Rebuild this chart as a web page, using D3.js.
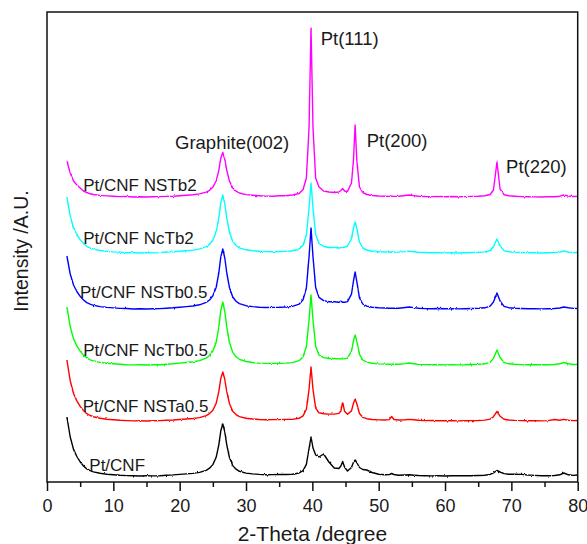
<!DOCTYPE html>
<html>
<head>
<meta charset="utf-8">
<script src="https://cdn.jsdelivr.net/npm/d3@7"></script>
<style>
  body { margin: 0; background: #fff; }
  svg text { font-family: "Liberation Sans", Arial, sans-serif; fill: #1a1a1a; }
</style>
</head>
<body>
<svg id="chart" width="587" height="544"></svg>
<script>
// 2-theta positions (degrees) shared by every diffractogram
const twoTheta = [
  3, 3.5, 4, 4.5, 5, 5.5, 6, 6.5, 7, 8,
  9, 10, 11, 12, 13, 14, 15, 16, 17, 18,
  19, 20, 21, 22, 23, 24, 24.5, 25, 25.5, 25.9,
  26.2, 26.5, 26.8, 27.1, 27.5, 28, 28.5, 29, 30, 31,
  32, 33, 34, 35, 36, 37, 38, 38.6, 39.1, 39.5,
  39.8, 40.1, 40.5, 41, 41.7, 42.5, 43.3, 44, 44.3, 44.57,
  44.85, 45.3, 45.9, 46.2, 46.45, 46.7, 47.1, 47.6, 48.2, 49,
  50, 51, 51.6, 51.95, 52.3, 53, 54, 54.6, 55.3, 56,
  57, 58, 59, 60, 61, 62, 63, 64, 65, 66,
  66.8, 67.3, 67.83, 68.3, 68.9, 69.6, 70.5, 71.5, 72.5, 73.5,
  74.5, 75.5, 76.5, 77.3, 77.9, 78.6, 79.3, 80
];

// Intensity above background (a.u.) for each sample
const ptCnf = [
  59, 39, 26.6, 19.5, 14.2, 10, 7.1, 5.3, 4.1, 2.7,
  1.8, 1.2, 0.7, 0.4, 0.2, 0, 0.3, 0.1, 0.3, 0.8,
  1.1, 1.6, 2.1, 2.6, 3.6, 5.7, 7.8, 11.4, 18.7, 31.2,
  45.2, 52, 44.2, 31.2, 18.7, 10.4, 6.8, 4.7, 2.9, 2.1,
  1.6, 1.3, 1.4, 1.5, 1.5, 1.8, 3, 5.4, 11.6, 27.5,
  39, 28, 21, 19, 22, 14, 8, 7.5, 10, 14.5,
  9, 5, 8.6, 13.7, 16, 13.5, 8.5, 6.5, 6, 3.5,
  1.8, 1.2, 1.4, 2.5, 1.5, 0.8, 1, 1.2, 0.8, 0.5,
  0.3, 0.1, 0.3, 0, 0.2, 0.4, 0.2, 0.3, 0.5, 0.8,
  1.6, 3.2, 5.5, 4, 2.4, 1.8, 1.8, 1.6, 1, 0.6,
  0.3, 0.2, 0.5, 1.2, 3, 1.2, 0.6, 1
];
const ptCnfNSTa05 = [
  61, 40.3, 27.5, 20.1, 14.6, 10.4, 7.3, 5.5, 4.3, 2.7,
  1.8, 1.2, 0.7, 0.4, 0.1, 0.3, 0, 0.3, 0.4, 0.8,
  1.0, 1.5, 2, 2.5, 3.4, 5.4, 7.4, 10.8, 17.6, 29.4,
  42.6, 49, 41.7, 29.4, 17.6, 9.8, 6.4, 4.4, 2.7, 2,
  1.5, 1.3, 1.4, 1.4, 1.6, 1.6, 2.7, 5.1, 11.8, 31.5,
  54, 31.5, 12.8, 8.2, 7.3, 6.9, 6.9, 7.6, 10, 19,
  9.8, 6.8, 10.1, 17.8, 22, 17.3, 7.5, 3.7, 2.3, 1.5,
  1.1, 1, 1.4, 4.5, 1.5, 1, 1.3, 1.6, 1.2, 0.8,
  0.4, 0.5, 0.3, 0.2, 0.4, 0.1, 0.3, 0.4, 0.5, 0.9,
  1.9, 4.3, 9.5, 4.8, 1.8, 1, 0.6, 0.4, 0.2, 0.3,
  0.1, 0.4, 1.5, 0.8, 1.6, 0.8, 0.4, 0.5
];
const ptCnfNcTb05 = [
  58, 38.3, 26.1, 19.1, 13.9, 9.9, 7, 5.2, 4.1, 2.6,
  1.7, 1.2, 0.7, 0.3, 0.1, 0.3, 0, 0.2, 0.3, 0.8,
  1.2, 1.9, 2.5, 3.2, 4.4, 6.9, 9.5, 13.9, 22.7, 37.8,
  54.8, 63, 53.6, 37.8, 22.7, 12.6, 8.2, 5.7, 3.5, 2.5,
  1.9, 1.6, 1.6, 1.6, 1.9, 2.4, 4.3, 8.2, 18.2, 45,
  70, 45, 18.7, 10, 7.4, 6.5, 6.5, 6.1, 6.2, 6.1,
  6.1, 6.9, 14, 24.4, 30, 23.9, 10.7, 5, 2.9, 1.7,
  1.1, 0.9, 0.7, 0.8, 0.7, 0.8, 1.4, 2, 1.3, 0.6,
  0.4, 0.3, 0.4, 0.1, 0.3, 0.1, 0.2, 0.5, 0.7, 1.2,
  2.7, 6.6, 15, 7.5, 2.6, 1.2, 0.7, 0.4, 0.3, 0.2,
  0.2, 0.3, 0.5, 1.2, 2.5, 1.3, 0.5, 0.6
];
const ptCnfNSTb05 = [
  53, 35, 24, 17.5, 12.7, 9, 6.4, 4.8, 3.7, 2.4,
  1.6, 1.1, 0.6, 0.5, 0, 0.2, 0, 0.3, 0.4, 0.8,
  1.2, 1.8, 2.4, 3, 4.2, 6.6, 9, 13.2, 21.6, 36,
  52.2, 60, 51, 36, 21.6, 12, 7.8, 5.4, 3.3, 2.4,
  1.8, 1.5, 1.6, 1.7, 2, 2.6, 4.8, 9.3, 21, 52,
  81, 52, 21.5, 11.6, 8.4, 7.2, 7.2, 6.7, 7.8, 6.7,
  6.7, 7.4, 14.8, 28, 37, 27.6, 11.2, 5, 2.9, 1.7,
  1.2, 1, 0.7, 0.9, 0.7, 0.8, 1.5, 2, 1.4, 0.8,
  0.4, 0.3, 0.5, 0.2, 0.3, 0.1, 0.3, 0.5, 0.7, 1.2,
  2.9, 7, 16, 8, 2.7, 1.3, 0.8, 0.5, 0.3, 0.2,
  0.1, 0.3, 0.5, 1, 2, 1.2, 0.6, 0.5
];
const ptCnfNcTb2 = [
  56, 37, 25, 18.5, 13.4, 9.5, 6.7, 5, 3.9, 2.5,
  1.7, 1.1, 0.7, 0.3, 0.2, 0, 0.3, 0.1, 0.4, 1.0,
  1.2, 1.7, 2.3, 2.9, 4.1, 6.4, 8.7, 12.8, 20.9, 34.8,
  50.5, 58, 49.3, 34.8, 20.9, 11.6, 7.5, 5.2, 3.2, 2.3,
  1.7, 1.4, 1.3, 1.5, 1.6, 2.2, 4, 7.8, 18, 45,
  70, 45, 18.5, 9.5, 6.5, 5.5, 5.5, 5, 5.4, 5.5,
  5.7, 7, 14.4, 25, 31, 25, 11, 5, 3, 1.7,
  1.2, 1, 0.8, 1, 0.8, 0.9, 1.4, 1.9, 1.3, 0.7,
  0.5, 0.2, 0.4, 0.1, 0.3, 0, 0.2, 0.5, 0.7, 1.1,
  2.5, 6.2, 14, 7, 2.4, 1.2, 0.7, 0.4, 0.2, 0.3,
  0, 0.2, 0.4, 0.8, 2, 0.9, 0.4, 0.5
];
const ptCnfNSTb2 = [
  36, 24, 16, 12, 9, 6, 4.5, 3.2, 2.5, 1.6,
  1.1, 0.7, 0.4, 0.5, 0, 0.3, 0, 0.2, 0.4, 0.6,
  0.8, 1.3, 1.8, 2.2, 3.1, 4.9, 6.7, 9.8, 16, 26.7,
  38.7, 44.5, 37.8, 26.7, 16, 8.9, 5.8, 4, 2.4, 1.8,
  1.3, 0.9, 0.7, 1.2, 1.3, 2, 3.5, 7.5, 19, 69,
  169, 69, 19, 10, 6, 5, 4.5, 5, 6.5, 8.5,
  6, 5.5, 14, 37, 72, 37, 10, 4.5, 2.5, 1.5,
  1.0, 0.8, 0.6, 0.8, 0.6, 0.8, 1.5, 2, 1.4, 0.8,
  0.5, 0.4, 0.6, 0.3, 0.5, 0.2, 0.4, 0.6, 0.8, 1.2,
  2.5, 7, 35, 8, 2.3, 1.2, 0.8, 0.4, 0.3, 0.1,
  0, 0.2, 0.3, 0.8, 2, 1, 0.5, 0.6
];

const sampleNames = ["Pt/CNF", "Pt/CNF NSTa0.5", "Pt/CNF NcTb0.5", "Pt/CNF NSTb0.5", "Pt/CNF NcTb2", "Pt/CNF NSTb2"];
const sampleColors = ["#000000", "#ff0000", "#00ff00", "#0000ff", "#00ffff", "#ff00ff"];
const stackOffsets = [6, 61, 117, 173, 229, 285];   // vertical shift of each trace (a.u.)
const sampleValues = [ptCnf, ptCnfNSTa05, ptCnfNcTb05, ptCnfNSTb05, ptCnfNcTb2, ptCnfNSTb2];

const xTicks = [0, 10, 20, 30, 40, 50, 60, 70, 80];
const xMinorTicks = [5, 15, 25, 35, 45, 55, 65, 75];
const peakNames = ["Graphite(002)", "Pt(111)", "Pt(200)", "Pt(220)"];

// ---- drawing ----
const svg = d3.select("#chart");
const plotL = 47, plotR = 577.7, plotT = 12, plotB = 482;

const x = d3.scaleLinear().domain([0, 80]).range([plotL, plotR]);
const y = d3.scaleLinear().domain([0, 470]).range([plotB, plotT]);

// counting-noise texture: small vertical-only jitter on the traces
const defs = svg.append("defs");
const grain = defs.append("filter").attr("id", "grain")
  .attr("filterUnits", "userSpaceOnUse")
  .attr("x", 0).attr("y", 0).attr("width", 587).attr("height", 544);
grain.append("feTurbulence")
  .attr("type", "fractalNoise").attr("baseFrequency", "0.7 0.2")
  .attr("numOctaves", 1).attr("seed", 7).attr("result", "noise");
grain.append("feColorMatrix")
  .attr("in", "noise").attr("type", "matrix")
  .attr("values", "0 0 0 0 0.5  0 1 0 0 0  0 0 1 0 0  0 0 0 1 0")
  .attr("result", "vnoise");
grain.append("feDisplacementMap")
  .attr("in", "SourceGraphic").attr("in2", "vnoise")
  .attr("scale", 2.6).attr("xChannelSelector", "R").attr("yChannelSelector", "G");

const line = d3.line()
  .x(d => x(d[0]))
  .y(d => y(d[1]));

const traces = svg.append("g").attr("class", "traces").attr("filter", "url(#grain)");
sampleValues.forEach((vals, i) => {
  const pts = twoTheta.map((t, j) => [t, vals[j] + stackOffsets[i]]);
  traces.append("path")
    .datum(pts)
    .attr("fill", "none")
    .attr("stroke", sampleColors[i])
    .attr("stroke-width", 1.4)
    .attr("stroke-linejoin", "round")
    .attr("d", line);
});

// sample labels sit just above each trace's flat background
const labelPos = [
  { t: 6.38, dy: 5.5 },
  { t: 5.38, dy: 8.7 },
  { t: 5.47, dy: 9.3 },
  { t: 4.97, dy: 10.7 },
  { t: 5.47, dy: 8.7 },
  { t: 5.47, dy: 6 }
];
svg.append("g").selectAll("text")
  .data(sampleNames)
  .join("text")
  .attr("x", (d, i) => x(labelPos[i].t))
  .attr("y", (d, i) => y(stackOffsets[i]) - labelPos[i].dy)
  .attr("font-size", 17)
  .text(d => d);

// reflection labels
const peakPos = [
  { t: 19.3, py: 149 },
  { t: 41.26, py: 45 },
  { t: 48.2, py: 146.7 },
  { t: 69.2, py: 173.3 }
];
svg.append("g").selectAll("text")
  .data(peakNames)
  .join("text")
  .attr("x", (d, i) => x(peakPos[i].t))
  .attr("y", (d, i) => peakPos[i].py)
  .attr("font-size", 18.5)
  .text(d => d);

// frame
svg.append("rect")
  .attr("x", plotL).attr("y", plotT)
  .attr("width", plotR - plotL).attr("height", plotB - plotT)
  .attr("fill", "none").attr("stroke", "#111").attr("stroke-width", 1.5);

// bottom axis: major ticks with labels, minor ticks without
const xAxis = d3.axisBottom(x).tickValues(xTicks).tickSize(9).tickPadding(8).tickFormat(d3.format("d"));
const gx = svg.append("g").attr("transform", `translate(0,${plotB})`).call(xAxis);
gx.select(".domain").remove();
gx.selectAll(".tick line").attr("stroke", "#111").attr("stroke-width", 1.5);
gx.selectAll(".tick text").attr("font-size", 18).attr("fill", "#1a1a1a")
  .style("font-family", "'Liberation Sans', Arial, sans-serif");

const xMinor = d3.axisBottom(x).tickValues(xMinorTicks).tickSize(5).tickFormat("");
const gxm = svg.append("g").attr("transform", `translate(0,${plotB})`).call(xMinor);
gxm.select(".domain").remove();
gxm.selectAll(".tick line").attr("stroke", "#111").attr("stroke-width", 1.5);

// axis titles
svg.append("text")
  .attr("x", (plotL + plotR) / 2)
  .attr("y", 540.5)
  .attr("text-anchor", "middle")
  .attr("font-size", 21)
  .text("2-Theta /degree");

svg.append("text")
  .attr("transform", "translate(21,251) rotate(-90)")
  .attr("text-anchor", "middle")
  .attr("dy", "0.36em")
  .attr("font-size", 19.5)
  .text("Intensity /A.U.");
</script>
</body>
</html>
